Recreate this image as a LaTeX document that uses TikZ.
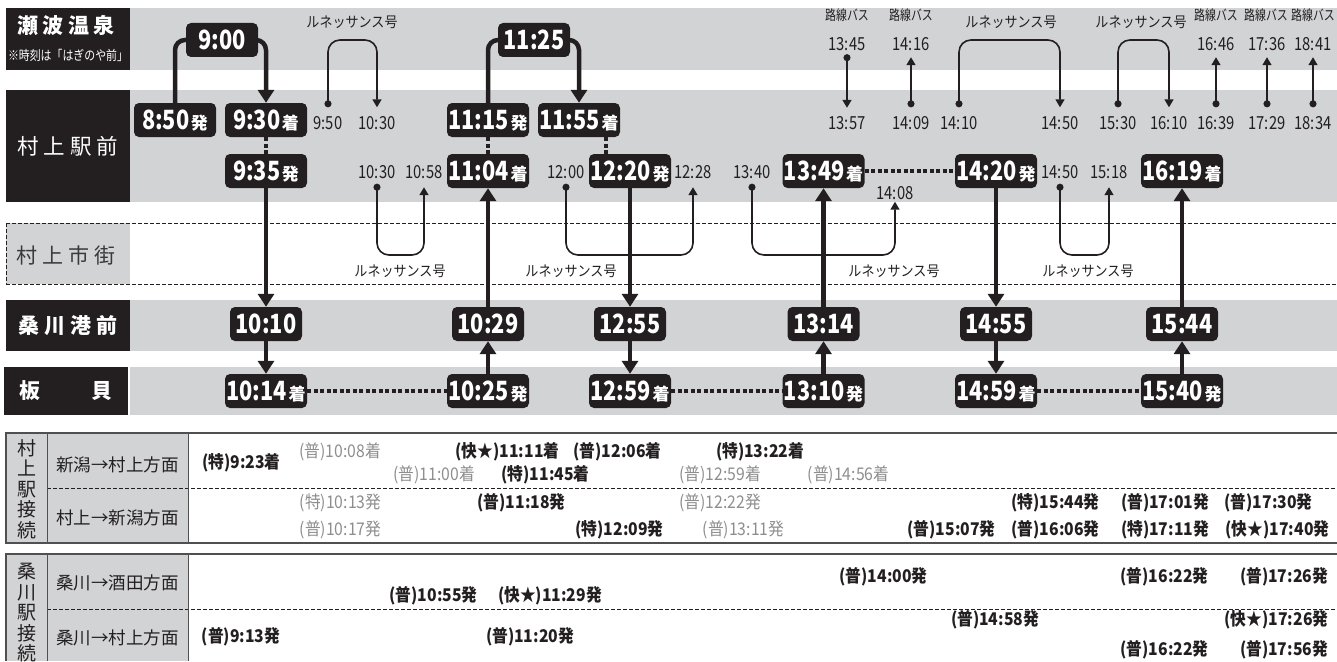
\documentclass[tikz,border=0pt]{standalone}
\usepackage{fontspec}
\setmainfont{Noto Sans CJK JP}
\newfontfamily\jp{Noto Sans CJK JP}
\newfontfamily\jpc[FakeStretch=0.82]{Noto Sans CJK JP}
\newfontfamily\jpt[FakeStretch=0.9]{Noto Sans CJK JP}
\newfontfamily\jpb[FakeStretch=0.78]{Noto Sans CJK JP}
\usetikzlibrary{arrows.meta,calc}
\definecolor{band}{HTML}{D2D3D5}
\definecolor{ink}{HTML}{231F20}
\definecolor{greytxt}{HTML}{8E8E8E}
\definecolor{rulec}{HTML}{505050}
\definecolor{citytxt}{HTML}{3A3A3A}
\pgfdeclarelayer{bands}
\pgfdeclarelayer{conns}
\pgfsetlayers{bands,conns,main}
\newcommand{\sfx}[1]{\kern1.5pt{\jp\fontsize{17}{17}\selectfont #1}}
\tikzset{
  tbox/.style={fill=ink, rounded corners=5pt, text=white, inner xsep=0pt, inner ysep=0pt,
    minimum height=34pt, minimum width=82pt, text height=19pt, text depth=0pt,
    font=\jpc\bfseries\fontsize{26.5}{26.5}\selectfont},
  pbox/.style={tbox, minimum width=72pt},
  smallt/.style={inner sep=0pt, text height=13pt, text depth=0pt, text=ink,
    font=\jpc\fontsize{18}{18}\selectfont},
  rentxt/.style={inner sep=0pt, text=ink, font=\jpt\fontsize{14.5}{14.5}\selectfont},
  bustxt/.style={inner sep=0pt, text=ink, font=\jpb\fontsize{14}{14}\selectfont},
  rowlab/.style={fill=ink, minimum width=124pt, inner sep=0pt, text=white,
    font=\jp\bfseries\fontsize{21}{21}\selectfont},
  tb/.style={inner sep=0pt, text=ink, font=\jpt\bfseries\fontsize{17.5}{17.5}\selectfont},
  tg/.style={inner sep=0pt, text=greytxt, font=\jpt\fontsize{17.5}{17.5}\selectfont},
  collab/.style={inner sep=0pt, text=ink, font=\jp\fontsize{17.5}{17.5}\selectfont},
  vlab/.style={align=center, inner sep=0pt, text=ink, font=\jp\fontsize{19}{20.5}\selectfont},
  dashln/.style={ink, line width=0.9pt, dash pattern=on 3.5pt off 2.5pt},
  thk/.style={ink, line width=4.5pt},
  thkarrow/.style={thk, -{Triangle[width=16pt,length=13pt]}},
  dotl/.style={ink, line width=4.5pt, dash pattern=on 4pt off 2.5pt},
  thn/.style={ink, line width=1.6pt},
  thnarrow/.style={thn, {Circle[length=7pt]}-{Triangle[width=9pt,length=8pt]}},
  thnloop/.style={thnarrow, rounded corners=12pt},
}
\begin{document}
\begin{tikzpicture}[x=1pt,y=-1pt]
\useasboundingbox (0,0) rectangle (1337,661);
\coordinate (looptop) at (0,40);
\coordinate (loopbot) at (0,255);
\begin{pgfonlayer}{bands}
  \fill[band] (130,8) rectangle (1337,70);
  \fill[band] (130,90) rectangle (1337,202);
  \fill[band] (130,300) rectangle (1337,351);
  \fill[band] (130,367) rectangle (1337,415);
  \fill[band] (6,223) rectangle (130,284);
  \draw[dashln] (6,223) -- (1337,223);
  \draw[dashln] (6,284) -- (1337,284);
  \draw[dashln] (6,223) -- (6,284);
  % tables
  \fill[band] (6,433) rectangle (188,543);
  \fill[band] (6,554) rectangle (188,661);
  \draw[dashln] (47,488) -- (1337,488);
  \draw[dashln] (47,609) -- (1337,609);
  \draw[rulec, line width=2pt] (5,433) -- (1337,433);
  \draw[rulec, line width=2pt] (5,543) -- (1337,543);
  \draw[rulec, line width=2pt] (5,554) -- (1337,554);
  \draw[rulec, line width=1.5pt] (6,433) -- (6,543);
  \draw[rulec, line width=1pt] (47,433) -- (47,543);
  \draw[rulec, line width=1pt] (188,433) -- (188,543);
  \draw[rulec, line width=1.5pt] (6,554) -- (6,661);
  \draw[rulec, line width=1pt] (47,554) -- (47,661);
  \draw[rulec, line width=1pt] (188,554) -- (188,661);
\end{pgfonlayer}

% row labels
\node[rowlab, minimum height=62pt] (lSen) at (68,39) {};
\node[inner sep=0pt, text=white, font=\jp\bfseries\fontsize{21}{21}\selectfont] (tSen) at (66,25) {瀬\kern4.5pt波\kern4.5pt温\kern4.5pt泉};
\node[inner sep=0pt, text=white, font=\jpc\fontsize{13.3}{13.3}\selectfont] (tNote) at (68,55) {※時刻は「はぎのや前」};
\node[rowlab, minimum height=112pt, font=\jp\fontsize{21.5}{21.5}\selectfont] (lMur) at (68,146) {村\kern5pt上\kern5pt駅\kern5pt前};
\node[inner sep=0pt, text=citytxt, font=\jp\fontsize{21}{21}\selectfont] (lCity) at (66,255) {村\kern5pt上\kern5pt市\kern5pt街};
\node[rowlab, minimum height=51pt] (lKuw) at (68,325.5) {桑\kern5pt川\kern5pt港\kern5pt前};
\node[rowlab, minimum height=48pt] (lIta) at (66,391) {板\kern52pt貝};

% big time boxes
\node[pbox] (b900) at (222,40) {9:00};
\node[pbox] (b1125) at (534,40) {11:25};
\node[tbox] (b850) at (175,120) {8:50\sfx{発}};
\node[tbox] (b930) at (266,120) {9:30\sfx{着}};
\node[tbox] (b935) at (266,171) {9:35\sfx{発}};
\node[tbox] (b1115) at (488,120) {11:15\sfx{発}};
\node[tbox] (b1155) at (579,120) {11:55\sfx{着}};
\node[tbox] (b1104) at (488,171) {11:04\sfx{着}};
\node[tbox] (b1220) at (630,171) {12:20\sfx{発}};
\node[tbox] (b1349) at (823.5,171) {13:49\sfx{着}};
\node[tbox] (b1420) at (996,171) {14:20\sfx{発}};
\node[tbox] (b1619) at (1182,171) {16:19\sfx{着}};
\node[pbox] (b1010) at (266,324) {10:10};
\node[pbox] (b1029) at (488,324) {10:29};
\node[pbox] (b1255) at (630,324) {12:55};
\node[pbox] (b1314) at (823.5,324) {13:14};
\node[pbox] (b1455) at (996,324) {14:55};
\node[pbox] (b1544) at (1182,324) {15:44};
\node[tbox] (b1014) at (266,391) {10:14\sfx{着}};
\node[tbox] (b1025) at (488,391) {10:25\sfx{発}};
\node[tbox] (b1259) at (630,391) {12:59\sfx{着}};
\node[tbox] (b1310) at (823.5,391) {13:10\sfx{発}};
\node[tbox] (b1459) at (996,391) {14:59\sfx{着}};
\node[tbox] (b1540) at (1182,391) {15:40\sfx{発}};

% small labels top band
\node[rentxt] (rn1) at (352,22) {ルネッサンス号};
\node[rentxt] (rn2) at (1011,22) {ルネッサンス号};
\node[rentxt] (rn3) at (1141,22) {ルネッサンス号};
\node[bustxt] (bs1) at (847,15) {路線バス};
\node[bustxt] (bs2) at (911,15) {路線バス};
\node[bustxt] (bs3) at (1216,15) {路線バス};
\node[bustxt] (bs4) at (1266,15) {路線バス};
\node[bustxt] (bs5) at (1313,15) {路線バス};
\node[smallt] (u1345) at (847,44) {13:45};
\node[smallt] (u1416) at (911,44) {14:16};
\node[smallt] (u1646) at (1216,44) {16:46};
\node[smallt] (u1736) at (1267,44) {17:36};
\node[smallt] (u1841) at (1313,44) {18:41};
% middle times
\node[smallt] (m950) at (328,123) {9:50};
\node[smallt] (m1030) at (377,123) {10:30};
\node[smallt] (m1357) at (847,123) {13:57};
\node[smallt] (m1409) at (911,123) {14:09};
\node[smallt] (m1410) at (959,123) {14:10};
\node[smallt] (m1450) at (1060,123) {14:50};
\node[smallt] (m1530) at (1118,123) {15:30};
\node[smallt] (m1610) at (1169,123) {16:10};
\node[smallt] (m1639) at (1216,123) {16:39};
\node[smallt] (m1729) at (1267,123) {17:29};
\node[smallt] (m1834) at (1313,123) {18:34};
% lower times
\node[smallt] (l1030) at (377,172) {10:30};
\node[smallt] (l1058) at (424,172) {10:58};
\node[smallt] (l1200) at (566,172) {12:00};
\node[smallt] (l1228) at (693,172) {12:28};
\node[smallt] (l1340) at (752,172) {13:40};
\node[smallt] (l1408) at (895,193) {14:08};
\node[smallt] (l1450) at (1060,172) {14:50};
\node[smallt] (l1518) at (1109,172) {15:18};
\node[rentxt] (rn4) at (400,271) {ルネッサンス号};
\node[rentxt] (rn5) at (571,271) {ルネッサンス号};
\node[rentxt] (rn6) at (894,271) {ルネッサンス号};
\node[rentxt] (rn7) at (1088,271) {ルネッサンス号};

% thick connectors
\begin{pgfonlayer}{conns}
  \draw[thk, rounded corners=10pt] (b850.north) |- (b900.center);
  \draw[thkarrow, rounded corners=10pt] (b900.center) -| (b930.north);
  \draw[thk, rounded corners=10pt] (b1115.north) |- (b1125.center);
  \draw[thkarrow, rounded corners=10pt] (b1125.center) -| (b1155.north);
  \draw[dotl] (b930.south) -- (b935.north);
  \draw[dotl] (b1115.south) -- (b1104.north);
  \draw[dotl] ([xshift=27pt]b1155.south) -- ([xshift=27pt]b1155.south |- b1220.north);
  \draw[dotl] (b1349.east) -- (b1420.west);
  \draw[dotl] (b1014.east) -- (b1025.west);
  \draw[dotl] (b1259.east) -- (b1310.west);
  \draw[dotl] (b1459.east) -- (b1540.west);
\end{pgfonlayer}
\draw[thkarrow] (b935.south) -- (b1010.north);
\draw[thkarrow] (b1010.south) -- (b1014.north);
\draw[thkarrow] (b1025.north) -- (b1029.south);
\draw[thkarrow] (b1029.north) -- (b1104.south);
\draw[thkarrow] (b1220.south) -- (b1255.north);
\draw[thkarrow] (b1255.south) -- (b1259.north);
\draw[thkarrow] (b1310.north) -- (b1314.south);
\draw[thkarrow] (b1314.north) -- (b1349.south);
\draw[thkarrow] (b1420.south) -- (b1455.north);
\draw[thkarrow] (b1455.south) -- (b1459.north);
\draw[thkarrow] (b1540.north) -- (b1544.south);
\draw[thkarrow] (b1544.north) -- (b1619.south);

% thin loops (top)
\draw[thnloop] ([yshift=9pt]m950.north) -- (m950.north |- looptop) -- (m1030.north |- looptop) -- ([yshift=9pt]m1030.north);
\draw[thnloop] ([yshift=9pt]m1410.north) -- (m1410.north |- looptop) -- (m1450.north |- looptop) -- ([yshift=9pt]m1450.north);
\draw[thnloop] ([yshift=9pt]m1530.north) -- (m1530.north |- looptop) -- (m1610.north |- looptop) -- ([yshift=9pt]m1610.north);
% thin loops (bottom)
\draw[thnloop] ([yshift=-5pt]l1030.south) -- (l1030.south |- loopbot) -- (l1058.south |- loopbot) -- ([yshift=-8.5pt]l1058.south);
\draw[thnloop] ([yshift=-5pt]l1200.south) -- (l1200.south |- loopbot) -- (l1228.south |- loopbot) -- ([yshift=-8.5pt]l1228.south);
\draw[thnloop] ([yshift=-5pt]l1340.south) -- (l1340.south |- loopbot) -- (l1408.south |- loopbot) -- ([yshift=-2pt]l1408.south);
\draw[thnloop] ([yshift=-5pt]l1450.south) -- (l1450.south |- loopbot) -- (l1518.south |- loopbot) -- ([yshift=-8.5pt]l1518.south);
% buses
\draw[thnarrow] ([yshift=-3.5pt]u1345.south) -- ([yshift=8.5pt]m1357.north);
\draw[thnarrow] ([yshift=9pt]m1409.north) -- ([yshift=-6.5pt]u1416.south);
\draw[thnarrow] ([yshift=9pt]m1639.north) -- ([yshift=-6.5pt]u1646.south);
\draw[thnarrow] ([yshift=9pt]m1729.north) -- ([yshift=-6.5pt]u1736.south);
\draw[thnarrow] ([yshift=9pt]m1834.north) -- ([yshift=-6.5pt]u1841.south);

% tables: labels
\node[vlab] (v1) at (26.5,489) {村\\上\\駅\\接\\続};
\node[vlab] (v2) at (26.5,613) {桑\\川\\駅\\接\\続};
\node[collab] (c1) at (117.5,465) {新潟→村上方面};
\node[collab] (c2) at (117.5,518) {村上→新潟方面};
\node[collab] (c3) at (117.5,583) {桑川→酒田方面};
\node[collab] (c4) at (117.5,638) {桑川→村上方面};

% table 1 row 1
\node[tg] (e1) at (340,452) {(普)10:08着};
\node[tb] (e2) at (507.5,452) {(快★)11:11着};
\node[tb] (e3) at (617.5,452) {(普)12:06着};
\node[tb] (e4) at (760,452) {(特)13:22着};
\node[tb] (e5) at (241.5,463) {(特)9:23着};
\node[tg] (e6) at (434,475) {(普)11:00着};
\node[tb] (e7) at (545.5,475) {(特)11:45着};
\node[tg] (e8) at (720,475) {(普)12:59着};
\node[tg] (e9) at (848.5,475) {(普)14:56着};
% table 1 row 2
\node[tg] (f1) at (340.5,503) {(特)10:13発};
\node[tb] (f2) at (521.5,503) {(普)11:18発};
\node[tg] (f3) at (720,503) {(普)12:22発};
\node[tb] (f4) at (1055.5,503) {(特)15:44発};
\node[tb] (f5) at (1165,503) {(普)17:01発};
\node[tb] (f6) at (1268.5,503) {(普)17:30発};
\node[tg] (f7) at (340.5,530) {(普)10:17発};
\node[tb] (f8) at (619.5,530) {(特)12:09発};
\node[tg] (f9) at (743.5,530) {(普)13:11発};
\node[tb] (f10) at (951.5,530) {(普)15:07発};
\node[tb] (f11) at (1055.5,530) {(普)16:06発};
\node[tb] (f12) at (1165,530) {(特)17:11発};
\node[tb] (f13) at (1277.5,530) {(快★)17:40発};
% table 2 row 1
\node[tb] (g1) at (883.5,577) {(普)14:00発};
\node[tb] (g2) at (1164.5,577) {(普)16:22発};
\node[tb] (g3) at (1284,577) {(普)17:26発};
\node[tb] (g4) at (433.5,596) {(普)10:55発};
\node[tb] (g5) at (550,596) {(快★)11:29発};
% table 2 row 2
\node[tb] (h1) at (995,620) {(普)14:58発};
\node[tb] (h2) at (1276.5,620) {(快★)17:26発};
\node[tb] (h3) at (241,637) {(普)9:13発};
\node[tb] (h4) at (530,637) {(普)11:20発};
\node[tb] (h5) at (1164.5,650) {(普)16:22発};
\node[tb] (h6) at (1284,650) {(普)17:56発};
\end{tikzpicture}
\end{document}
